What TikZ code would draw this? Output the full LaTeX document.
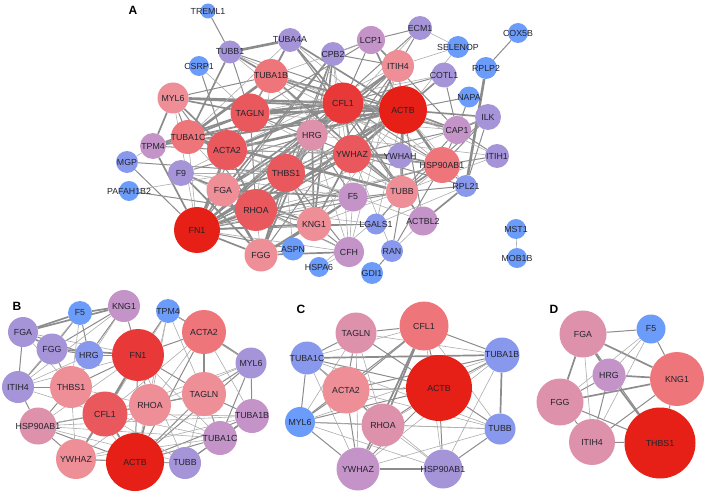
\documentclass[tikz,border=0pt]{standalone}
\usepackage{fontspec}
\setmainfont{Liberation Sans}
\usepackage{xcolor}
\usetikzlibrary{backgrounds}
\definecolor{Deg1}{RGB}{108,156,250}
\definecolor{Deg2}{RGB}{136,152,236}
\definecolor{Deg3}{RGB}{166,148,216}
\definecolor{Deg4}{RGB}{196,148,200}
\definecolor{Deg5}{RGB}{222,145,170}
\definecolor{Deg6}{RGB}{238,142,150}
\definecolor{Deg7}{RGB}{238,118,122}
\definecolor{Deg8}{RGB}{233,88,92}
\definecolor{Deg9}{RGB}{232,56,56}
\definecolor{Deg10}{RGB}{230,32,22}
\definecolor{EdgeGray}{RGB}{140,140,140}
\definecolor{EdgeLight}{RGB}{172,172,172}
\definecolor{LabelInk}{RGB}{35,35,45}
\tikzset{
  gene/.style={circle,inner sep=0pt,draw=none,fill=#1},
  gname/.style={inner sep=0pt,text=LabelInk,font=\fontsize{8.8}{9}\selectfont},
  tag/.style={font=\fontsize{12}{14}\selectfont\bfseries,text=black},
  lnkA/.style={EdgeLight,line width=0.6pt},
  lnkB/.style={EdgeGray,line width=1.0pt},
  lnkC/.style={EdgeGray,line width=1.7pt},
  lnkD/.style={EdgeGray,line width=2.6pt},
}
\begin{document}
\begin{tikzpicture}[x=1pt,y=-1pt]
\useasboundingbox (0,0) rectangle (704,492);

% ---- panel A : full network
\node[tag] (labA) at (133,10) {A};
\node[gene=Deg1, minimum size=15pt, label={[gname]center:TREML1}] (aTREML1) at (208,11) {};
\node[gene=Deg3, minimum size=23pt, label={[gname]center:TUBB1}] (aTUBB1) at (230,52) {};
\node[gene=Deg3, minimum size=24pt, label={[gname]center:TUBA4A}] (aTUBA4A) at (290,40) {};
\node[gene=Deg3, minimum size=24pt, label={[gname]center:CPB2}] (aCPB2) at (333,54) {};
\node[gene=Deg1, minimum size=20pt, label={[gname]center:CSRP1}] (aCSRP1) at (199,66) {};
\node[gene=Deg7, minimum size=34pt, label={[gname]center:TUBA1B}] (aTUBA1B) at (271,76) {};
\node[gene=Deg6, minimum size=31pt, label={[gname]center:MYL6}] (aMYL6) at (173,98) {};
\node[gene=Deg8, minimum size=39pt, label={[gname]center:TAGLN}] (aTAGLN) at (250,113) {};
\node[gene=Deg9, minimum size=41pt, label={[gname]center:CFL1}] (aCFL1) at (343,103) {};
\node[gene=Deg10, minimum size=48pt, label={[gname]center:ACTB}] (aACTB) at (403,110) {};
\node[gene=Deg5, minimum size=31pt, label={[gname]center:HRG}] (aHRG) at (312,135) {};
\node[gene=Deg7, minimum size=34pt, label={[gname]center:TUBA1C}] (aTUBA1C) at (188,137) {};
\node[gene=Deg8, minimum size=40pt, label={[gname]center:ACTA2}] (aACTA2) at (227,150) {};
\node[gene=Deg4, minimum size=26pt, label={[gname]center:TPM4}] (aTPM4) at (153,146) {};
\node[gene=Deg2, minimum size=22pt, label={[gname]center:MGP}] (aMGP) at (127,162) {};
\node[gene=Deg1, minimum size=20pt, label={[gname]center:PAFAH1B2}] (aPAFAH1B2) at (129,191) {};
\node[gene=Deg3, minimum size=26pt, label={[gname]center:F9}] (aF9) at (181,173) {};
\node[gene=Deg6, minimum size=33pt, label={[gname]center:FGA}] (aFGA) at (223,190) {};
\node[gene=Deg8, minimum size=38pt, label={[gname]center:THBS1}] (aTHBS1) at (286,173) {};
\node[gene=Deg8, minimum size=38pt, label={[gname]center:YWHAZ}] (aYWHAZ) at (352,154) {};
\node[gene=Deg3, minimum size=25pt, label={[gname]center:YWHAH}] (aYWHAH) at (400,156) {};
\node[gene=Deg7, minimum size=36pt, label={[gname]center:HSP90AB1}] (aHSP90AB1) at (442,165) {};
\node[gene=Deg8, minimum size=42pt, label={[gname]center:RHOA}] (aRHOA) at (256,210) {};
\node[gene=Deg4, minimum size=29pt, label={[gname]center:F5}] (aF5) at (353,197) {};
\node[gene=Deg6, minimum size=32pt, label={[gname]center:TUBB}] (aTUBB) at (402,192) {};
\node[gene=Deg6, minimum size=34pt, label={[gname]center:KNG1}] (aKNG1) at (314,224) {};
\node[gene=Deg2, minimum size=21pt, label={[gname]center:LGALS1}] (aLGALS1) at (376,224) {};
\node[gene=Deg4, minimum size=29pt, label={[gname]center:ACTBL2}] (aACTBL2) at (423,221) {};
\node[gene=Deg10, minimum size=46pt, label={[gname]center:FN1}] (aFN1) at (197,230) {};
\node[gene=Deg6, minimum size=33pt, label={[gname]center:FGG}] (aFGG) at (261,255) {};
\node[gene=Deg1, minimum size=23pt, label={[gname]center:ASPN}] (aASPN) at (293,249) {};
\node[gene=Deg1, minimum size=20pt, label={[gname]center:HSPA6}] (aHSPA6) at (319,267) {};
\node[gene=Deg4, minimum size=30pt, label={[gname]center:CFH}] (aCFH) at (349,252) {};
\node[gene=Deg2, minimum size=22pt, label={[gname]center:RAN}] (aRAN) at (392,251) {};
\node[gene=Deg1, minimum size=22pt, label={[gname]center:GDI1}] (aGDI1) at (372,273) {};
\node[gene=Deg6, minimum size=32pt, label={[gname]center:ITIH4}] (aITIH4) at (398,66) {};
\node[gene=Deg4, minimum size=28pt, label={[gname]center:LCP1}] (aLCP1) at (371,40) {};
\node[gene=Deg3, minimum size=24pt, label={[gname]center:ECM1}] (aECM1) at (420,28) {};
\node[gene=Deg1, minimum size=22pt, label={[gname]center:SELENOP}] (aSELENOP) at (458,47) {};
\node[gene=Deg3, minimum size=25pt, label={[gname]center:COTL1}] (aCOTL1) at (444,75) {};
\node[gene=Deg1, minimum size=20pt, label={[gname]center:COX5B}] (aCOX5B) at (518,33) {};
\node[gene=Deg1, minimum size=22pt, label={[gname]center:RPLP2}] (aRPLP2) at (486,68) {};
\node[gene=Deg1, minimum size=21pt, label={[gname]center:NAPA}] (aNAPA) at (469,97) {};
\node[gene=Deg3, minimum size=26pt, label={[gname]center:ILK}] (aILK) at (488,117) {};
\node[gene=Deg4, minimum size=28pt, label={[gname]center:CAP1}] (aCAP1) at (457,130) {};
\node[gene=Deg3, minimum size=24pt, label={[gname]center:ITIH1}] (aITIH1) at (497,156) {};
\node[gene=Deg2, minimum size=22pt, label={[gname]center:RPL21}] (aRPL21) at (466,186) {};
\node[gene=Deg1, minimum size=20pt, label={[gname]center:MST1}] (aMST1) at (516,229) {};
\node[gene=Deg1, minimum size=20pt, label={[gname]center:MOB1B}] (aMOB1B) at (517,258) {};

% ---- panel B
\node[tag] (labB) at (17,306) {B};
\node[gene=Deg1, minimum size=24pt, label={[gname]center:F5}] (bF5) at (80,313) {};
\node[gene=Deg4, minimum size=32pt, label={[gname]center:KNG1}] (bKNG1) at (124,306) {};
\node[gene=Deg1, minimum size=24pt, label={[gname]center:TPM4}] (bTPM4) at (168,311) {};
\node[gene=Deg7, minimum size=44pt, label={[gname]center:ACTA2}] (bACTA2) at (204,332) {};
\node[gene=Deg3, minimum size=30pt, label={[gname]center:FGA}] (bFGA) at (23,332) {};
\node[gene=Deg3, minimum size=31pt, label={[gname]center:FGG}] (bFGG) at (52,349) {};
\node[gene=Deg2, minimum size=28pt, label={[gname]center:HRG}] (bHRG) at (89,355) {};
\node[gene=Deg9, minimum size=52pt, label={[gname]center:FN1}] (bFN1) at (138,355) {};
\node[gene=Deg3, minimum size=31pt, label={[gname]center:MYL6}] (bMYL6) at (251,363) {};
\node[gene=Deg3, minimum size=32pt, label={[gname]center:ITIH4}] (bITIH4) at (18,387) {};
\node[gene=Deg6, minimum size=42pt, label={[gname]center:THBS1}] (bTHBS1) at (71,387) {};
\node[gene=Deg6, minimum size=44pt, label={[gname]center:TAGLN}] (bTAGLN) at (204,394) {};
\node[gene=Deg6, minimum size=42pt, label={[gname]center:RHOA}] (bRHOA) at (150,405) {};
\node[gene=Deg8, minimum size=45pt, label={[gname]center:CFL1}] (bCFL1) at (105,414) {};
\node[gene=Deg5, minimum size=37pt, label={[gname]center:HSP90AB1}] (bHSP90AB1) at (38,426) {};
\node[gene=Deg4, minimum size=34pt, label={[gname]center:TUBA1B}] (bTUBA1B) at (252,416) {};
\node[gene=Deg4, minimum size=34pt, label={[gname]center:TUBA1C}] (bTUBA1C) at (220,438) {};
\node[gene=Deg6, minimum size=40pt, label={[gname]center:YWHAZ}] (bYWHAZ) at (76,459) {};
\node[gene=Deg10, minimum size=58pt, label={[gname]center:ACTB}] (bACTB) at (135,462) {};
\node[gene=Deg3, minimum size=32pt, label={[gname]center:TUBB}] (bTUBB) at (185,463) {};

% ---- panel C
\node[tag] (labC) at (301,309) {C};
\node[gene=Deg7, minimum size=49pt, label={[gname]center:CFL1}] (cCFL1) at (424,326) {};
\node[gene=Deg5, minimum size=41pt, label={[gname]center:TAGLN}] (cTAGLN) at (356,333) {};
\node[gene=Deg2, minimum size=33pt, label={[gname]center:TUBA1C}] (cTUBA1C) at (307,358) {};
\node[gene=Deg2, minimum size=35pt, label={[gname]center:TUBA1B}] (cTUBA1B) at (502,355) {};
\node[gene=Deg6, minimum size=47pt, label={[gname]center:ACTA2}] (cACTA2) at (346,390) {};
\node[gene=Deg10, minimum size=66pt, label={[gname]center:ACTB}] (cACTB) at (439,388) {};
\node[gene=Deg1, minimum size=30pt, label={[gname]center:MYL6}] (cMYL6) at (300,422) {};
\node[gene=Deg5, minimum size=43pt, label={[gname]center:RHOA}] (cRHOA) at (383,425) {};
\node[gene=Deg2, minimum size=31pt, label={[gname]center:TUBB}] (cTUBB) at (500,429) {};
\node[gene=Deg4, minimum size=43pt, label={[gname]center:YWHAZ}] (cYWHAZ) at (358,469) {};
\node[gene=Deg3, minimum size=39pt, label={[gname]center:HSP90AB1}] (cHSP90AB1) at (443,469) {};

% ---- panel D
\node[tag] (labD) at (554,309) {D};
\node[gene=Deg5, minimum size=47pt, label={[gname]center:FGA}] (dFGA) at (583,334) {};
\node[gene=Deg1, minimum size=29pt, label={[gname]center:F5}] (dF5) at (651,329) {};
\node[gene=Deg4, minimum size=33pt, label={[gname]center:HRG}] (dHRG) at (609,375) {};
\node[gene=Deg7, minimum size=54pt, label={[gname]center:KNG1}] (dKNG1) at (677,379) {};
\node[gene=Deg5, minimum size=47pt, label={[gname]center:FGG}] (dFGG) at (560,402) {};
\node[gene=Deg5, minimum size=46pt, label={[gname]center:ITIH4}] (dITIH4) at (592,442) {};
\node[gene=Deg10, minimum size=71pt, label={[gname]center:THBS1}] (dTHBS1) at (660,443) {};

\begin{scope}[on background layer]
% panel A links
\foreach \u/\v in {aTUBB1/aTUBA4A, aACTB/aCFL1, aCFL1/aTAGLN, aTAGLN/aACTA2,
    aACTB/aACTA2, aACTB/aTAGLN, aTUBA1B/aTUBA1C, aYWHAZ/aYWHAH, aRPLP2/aRPL21,
    aFN1/aRHOA, aFN1/aACTA2, aMYL6/aCFL1, aTUBA1C/aTUBB, aACTB/aYWHAZ,
    aFGA/aFGG, aKNG1/aFGG, aCFL1/aACTA2, aACTB/aRHOA, aACTB/aHSP90AB1}
  \draw[lnkD] (\u) -- (\v);
\foreach \u/\v in {aTUBB1/aTUBA1B, aTUBB1/aTUBA1C, aTUBA4A/aTUBA1B, aTUBA4A/aCFL1,
    aTUBA4A/aACTB, aTUBA1B/aACTB, aTUBA1B/aTUBB, aTUBA1B/aCFL1, aMYL6/aTAGLN,
    aMYL6/aACTA2, aMYL6/aACTB, aTUBA1C/aACTB, aTUBA1C/aTAGLN, aTPM4/aACTB,
    aTPM4/aTAGLN, aTPM4/aMYL6, aTPM4/aFN1, aACTA2/aRHOA, aRHOA/aCFL1,
    aRHOA/aYWHAZ, aTHBS1/aFN1, aTHBS1/aFGA, aTHBS1/aKNG1, aTHBS1/aFGG,
    aFGA/aKNG1, aHRG/aKNG1, aHRG/aFGA, aHRG/aFGG, aHRG/aTHBS1, aFN1/aFGG,
    aFN1/aFGA, aFN1/aKNG1, aYWHAZ/aHSP90AB1, aYWHAH/aHSP90AB1, aHSP90AB1/aTUBB,
    aCFL1/aYWHAZ, aACTB/aTUBB, aACTB/aCAP1, aCFL1/aCAP1, aITIH4/aKNG1,
    aITIH4/aFGA, aITIH4/aHRG, aCPB2/aKNG1, aCPB2/aFGA, aILK/aACTB, aILK/aCAP1,
    aRPL21/aACTBL2, aF5/aFGA, aF5/aKNG1, aCFH/aFGG, aF9/aFGA, aF9/aFGG,
    aFN1/aCFL1, aFN1/aACTB, aACTA2/aTUBA1C, aLCP1/aACTB, aCOTL1/aACTB}
  \draw[lnkC] (\u) -- (\v);
\foreach \u/\v in {aTREML1/aTUBB1, aCSRP1/aACTA2, aMGP/aFN1, aMGP/aTHBS1,
    aPAFAH1B2/aRHOA, aTPM4/aACTA2, aTPM4/aCFL1, aTPM4/aTUBA1C, aF9/aHRG,
    aF9/aKNG1, aCPB2/aLCP1, aCPB2/aITIH4, aCPB2/aFGG, aCPB2/aHRG, aCPB2/aTHBS1,
    aCPB2/aFN1, aLCP1/aCFL1, aLCP1/aITIH4, aLCP1/aCAP1, aLCP1/aTAGLN,
    aECM1/aITIH4, aECM1/aFN1, aECM1/aLCP1, aCOX5B/aRPLP2, aCOTL1/aCFL1,
    aCOTL1/aCAP1, aNAPA/aCAP1, aNAPA/aACTB, aILK/aHSP90AB1, aILK/aRPL21,
    aILK/aTUBB, aITIH1/aCAP1, aITIH1/aHSP90AB1, aRPL21/aHSP90AB1, aRPL21/aTUBB,
    aRPL21/aYWHAZ, aLGALS1/aKNG1, aLGALS1/aFN1, aLGALS1/aTUBB, aACTBL2/aACTB,
    aACTBL2/aTUBB, aACTBL2/aCFL1, aRAN/aGDI1, aRAN/aTUBB, aRAN/aHSP90AB1,
    aASPN/aFN1, aASPN/aFGG, aCFH/aKNG1, aCFH/aFGA, aCFH/aTHBS1, aF5/aFGG,
    aF5/aTHBS1, aF5/aHRG, aKNG1/aRHOA, aHRG/aFN1, aHRG/aCFL1, aYWHAZ/aTUBB,
    aYWHAZ/aTAGLN, aYWHAZ/aACTA2, aYWHAZ/aFN1, aYWHAH/aACTB, aYWHAH/aTUBB,
    aHSP90AB1/aCFL1, aHSP90AB1/aFN1, aHSP90AB1/aCAP1, aTUBB/aCFL1, aTUBB/aFN1,
    aTUBB/aRHOA, aTHBS1/aACTB, aTHBS1/aRHOA, aRHOA/aTAGLN, aRHOA/aMYL6,
    aACTA2/aTUBA1B, aFN1/aTAGLN, aFN1/aYWHAZ, aCAP1/aTUBB, aCAP1/aYWHAZ,
    aTUBA4A/aTAGLN, aTUBA4A/aTUBB, aTUBB1/aTAGLN, aTUBB1/aACTB, aTUBA1B/aTAGLN,
    aTUBA1B/aMYL6, aTUBA1C/aMYL6, aTUBA1C/aCFL1, aITIH4/aACTB, aITIH4/aFN1,
    aITIH4/aTHBS1, aITIH4/aFGG}
  \draw[lnkB] (\u) -- (\v);
\foreach \u/\v in {aCSRP1/aTAGLN, aMGP/aTPM4, aPAFAH1B2/aYWHAZ, aF9/aF5,
    aF9/aTHBS1, aF9/aCFH, aF9/aITIH4, aCPB2/aF5, aCPB2/aCFH, aLCP1/aTUBA1B,
    aECM1/aSELENOP, aECM1/aTHBS1, aSELENOP/aITIH4, aSELENOP/aKNG1, aCOTL1/aTAGLN,
    aITIH1/aACTB, aITIH1/aKNG1, aITIH1/aHRG, aRPL21/aACTB, aRPL21/aLGALS1,
    aLGALS1/aACTB, aLGALS1/aRHOA, aACTBL2/aRAN, aACTBL2/aACTA2, aRAN/aYWHAZ,
    aASPN/aTHBS1, aHSPA6/aCFH, aCFH/aHRG, aCFH/aF5, aCFH/aFN1, aF5/aFN1,
    aHRG/aRHOA, aHRG/aACTB, aYWHAZ/aTHBS1, aYWHAZ/aTUBA1C, aYWHAH/aCFL1,
    aHSP90AB1/aTUBA1C, aHSP90AB1/aTUBA1B, aHSP90AB1/aRHOA, aTUBB/aTAGLN,
    aTHBS1/aCFL1, aTHBS1/aACTA2, aRHOA/aTUBA1C, aRHOA/aTUBA1B, aACTA2/aYWHAZ,
    aFN1/aTUBA1C, aFN1/aMYL6, aFGA/aRHOA, aFGG/aRHOA, aCAP1/aTAGLN,
    aCAP1/aTUBA1B, aTUBA4A/aTUBA1C, aTUBA4A/aHSP90AB1, aTUBB1/aTUBB,
    aTUBB1/aCFL1, aTUBA1B/aACTA2, aTUBA1B/aYWHAZ, aITIH4/aCFH, aITIH4/aF5,
    aILK/aFN1, aHSPA6/aHSP90AB1, aMST1/aMOB1B}
  \draw[lnkA] (\u) -- (\v);

% panel B links
\foreach \u/\v in {bF5/bKNG1, bF5/bFGA, bKNG1/bFGA, bFGA/bFGG, bFGG/bFN1,
    bACTA2/bMYL6, bACTA2/bTAGLN, bTUBA1B/bTUBA1C, bFN1/bCFL1, bCFL1/bACTB,
    bRHOA/bACTB}
  \draw[lnkC] (\u) -- (\v);
\foreach \u/\v in {bF5/bFGG, bF5/bHRG, bKNG1/bFGG, bKNG1/bHRG, bKNG1/bFN1,
    bFGA/bHRG, bFGA/bITIH4, bFGG/bHRG, bFGG/bITIH4, bFGG/bTHBS1, bHRG/bFN1,
    bTPM4/bFN1, bTPM4/bACTA2, bACTA2/bFN1, bACTA2/bACTB, bMYL6/bTAGLN,
    bMYL6/bTUBA1B, bMYL6/bTUBA1C, bMYL6/bACTB, bITIH4/bTHBS1, bITIH4/bHSP90AB1,
    bTHBS1/bFN1, bTHBS1/bCFL1, bTHBS1/bHSP90AB1, bFN1/bRHOA, bFN1/bACTB,
    bFN1/bTAGLN, bFN1/bYWHAZ, bCFL1/bRHOA, bCFL1/bTAGLN, bCFL1/bYWHAZ,
    bCFL1/bHSP90AB1, bRHOA/bTAGLN, bTAGLN/bTUBA1B, bTAGLN/bTUBA1C, bTAGLN/bACTB,
    bHSP90AB1/bYWHAZ, bHSP90AB1/bACTB, bTUBA1B/bTUBB, bTUBA1C/bTUBB,
    bTUBA1C/bACTB, bYWHAZ/bACTB, bACTB/bTUBB, bTUBA1B/bACTB}
  \draw[lnkB] (\u) -- (\v);
\foreach \u/\v in {bF5/bTHBS1, bF5/bITIH4, bKNG1/bTHBS1, bKNG1/bITIH4,
    bFGA/bFN1, bFGA/bTHBS1, bHRG/bTHBS1, bHRG/bITIH4, bTPM4/bTAGLN,
    bTPM4/bRHOA, bTPM4/bCFL1, bTPM4/bMYL6, bTPM4/bACTB, bACTA2/bCFL1,
    bACTA2/bRHOA, bACTA2/bTUBA1B, bMYL6/bCFL1, bMYL6/bRHOA, bITIH4/bFN1,
    bITIH4/bCFL1, bTHBS1/bACTB, bTHBS1/bYWHAZ, bTHBS1/bRHOA, bFN1/bHSP90AB1,
    bFN1/bTUBB, bFN1/bTUBA1C, bCFL1/bTUBA1B, bCFL1/bTUBA1C, bCFL1/bTUBB,
    bRHOA/bYWHAZ, bRHOA/bHSP90AB1, bRHOA/bTUBA1C, bTAGLN/bTUBB,
    bHSP90AB1/bTUBA1B, bHSP90AB1/bTUBA1C, bHSP90AB1/bTUBB, bTUBA1B/bYWHAZ,
    bTUBA1C/bYWHAZ, bYWHAZ/bTUBB}
  \draw[lnkA] (\u) -- (\v);

% panel C links
\foreach \u/\v in {cTUBA1C/cTUBA1B, cTUBA1B/cTUBB, cYWHAZ/cHSP90AB1,
    cCFL1/cRHOA, cCFL1/cYWHAZ}
  \draw[lnkC] (\u) -- (\v);
\foreach \u/\v in {cTAGLN/cCFL1, cTAGLN/cTUBA1C, cTAGLN/cACTA2, cTAGLN/cACTB,
    cCFL1/cTUBA1B, cCFL1/cACTB, cCFL1/cACTA2, cCFL1/cMYL6, cTUBA1C/cACTA2,
    cTUBA1C/cACTB, cTUBA1C/cMYL6, cTUBA1B/cACTB, cTUBA1B/cACTA2, cACTA2/cACTB,
    cACTA2/cMYL6, cACTA2/cRHOA, cACTA2/cYWHAZ, cACTB/cRHOA, cACTB/cMYL6,
    cACTB/cTUBB, cACTB/cHSP90AB1, cACTB/cYWHAZ, cMYL6/cRHOA, cRHOA/cYWHAZ,
    cTUBB/cHSP90AB1, cMYL6/cYWHAZ}
  \draw[lnkB] (\u) -- (\v);
\foreach \u/\v in {cTAGLN/cTUBA1B, cTAGLN/cRHOA, cTAGLN/cMYL6, cTAGLN/cYWHAZ,
    cCFL1/cTUBA1C, cCFL1/cHSP90AB1, cCFL1/cTUBB, cTUBA1C/cTUBB, cTUBA1C/cRHOA,
    cTUBA1C/cYWHAZ, cTUBA1C/cHSP90AB1, cTUBA1B/cMYL6, cTUBA1B/cRHOA,
    cTUBA1B/cHSP90AB1, cTUBA1B/cYWHAZ, cACTA2/cTUBB, cMYL6/cTUBB,
    cRHOA/cHSP90AB1, cRHOA/cTUBB, cTUBB/cYWHAZ, cMYL6/cHSP90AB1}
  \draw[lnkA] (\u) -- (\v);

% panel D links
\foreach \u/\v in {dFGA/dHRG, dFGA/dKNG1, dFGA/dFGG, dHRG/dKNG1, dHRG/dTHBS1,
    dKNG1/dFGG}
  \draw[lnkC] (\u) -- (\v);
\foreach \u/\v in {dFGA/dF5, dF5/dKNG1, dHRG/dFGG, dHRG/dITIH4, dKNG1/dITIH4,
    dKNG1/dTHBS1, dFGG/dITIH4, dFGG/dTHBS1, dITIH4/dTHBS1, dFGA/dTHBS1}
  \draw[lnkB] (\u) -- (\v);
\foreach \u/\v in {dF5/dHRG, dF5/dFGG, dFGA/dITIH4, dF5/dITIH4}
  \draw[lnkA] (\u) -- (\v);
\end{scope}
\end{tikzpicture}
\end{document}
